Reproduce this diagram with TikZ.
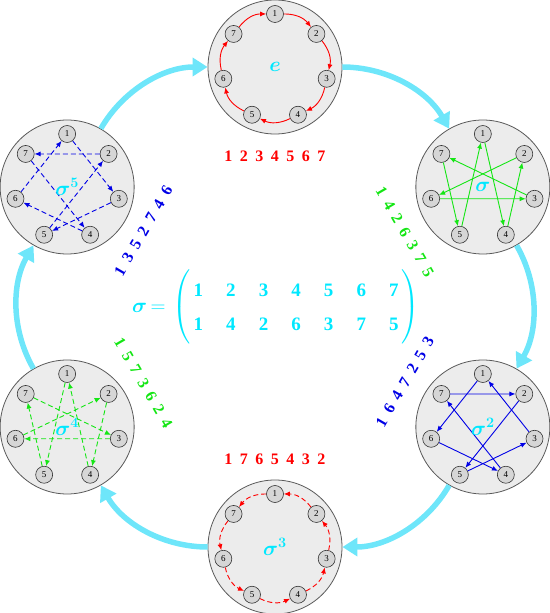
\documentclass[tikz,border=0pt]{standalone}
\usepackage{amsmath}
\usepackage{fontspec}
\setmainfont{Liberation Serif}
\usepackage{tikz}
\usetikzlibrary{calc,positioning,arrows.meta}

\definecolor{discfill}{RGB}{236,236,236}
\definecolor{dotfill}{RGB}{214,214,214}
\definecolor{symcyan}{RGB}{0,232,255}
\definecolor{flowcyan}{RGB}{110,230,250}
\definecolor{pred}{RGB}{255,0,0}
\definecolor{pgreen}{RGB}{20,230,20}
\definecolor{pblue}{RGB}{0,0,230}

\newcommand\gp{\hskip 7.5pt}

\tikzset{
  disc/.style={circle,draw=black!65,fill=discfill,line width=0.8pt,minimum size=134pt,inner sep=0pt},
  dot/.style={circle,draw=black!80,fill=dotfill,line width=0.6pt,minimum size=17pt,inner sep=0pt,font=\fontsize{9}{9}\selectfont},
  hop/.style={-{Latex[length=6pt,width=5pt]},line width=0.9pt},
  flow/.style={flowcyan,line width=5.5pt,-{Triangle[length=15pt,width=18pt]},looseness=0.92},
  cyc/.style={font=\fontsize{16}{16}\bfseries\selectfont},
  tag/.style={symcyan,font=\fontsize{21}{21}\selectfont}
}

\begin{document}
\begin{tikzpicture}[x=1pt,y=1pt]
	\useasboundingbox (-275,-306) rectangle (274,307);
	% the six powers
	\foreach \nm/\ang in {e/90,s1/30,s2/-30,s3/-90,s4/210,s5/150}{
		\node[disc] (\nm) at (\ang:240) {};
		\foreach \k in {1,...,7}
			\node[dot] (\nm-\k) at ([shift={({90-(\k-1)*360/7}:53)}]\nm.center) {\k};
	}
	% cyan flow between them
	\path[flow]
		(e) edge [bend left=30] (s1)
		(s1) edge [bend left=30] (s2)
		(s2) edge [bend left=30] (s3)
		(s3) edge [bend left=30] (s4)
		(s4) edge [bend left=30] (s5)
		(s5) edge [bend left=30] (e);
	% cycles inside
	\foreach \a/\b in {1/2,2/3,3/4,4/5,5/6,6/7,7/1}
		\draw[hop,pred] (e-\a) to[bend left=26] (e-\b);
	\foreach \a/\b in {1/4,4/2,2/6,6/3,3/7,7/5,5/1}
		\draw[hop,pgreen] (s1-\a) -- (s1-\b);
	\foreach \a/\b in {1/6,6/4,4/7,7/2,2/5,5/3,3/1}
		\draw[hop,pblue] (s2-\a) -- (s2-\b);
	\foreach \a/\b in {1/7,7/6,6/5,5/4,4/3,3/2,2/1}
		\draw[hop,pred,dash pattern=on 5pt off 3pt] (s3-\a) to[bend right=26] (s3-\b);
	\foreach \a/\b in {1/5,5/7,7/3,3/6,6/2,2/4,4/1}
		\draw[hop,pgreen,dash pattern=on 5pt off 3pt] (s4-\a) -- (s4-\b);
	\foreach \a/\b in {1/3,3/5,5/2,2/7,7/4,4/6,6/1}
		\draw[hop,pblue,dash pattern=on 5pt off 3pt] (s5-\a) -- (s5-\b);
	% names of the powers
	\node[tag] at (e) {$\boldsymbol{e}$};
	\node[tag] at (s1) {$\boldsymbol{\sigma}$};
	\node[tag] at (s2) {$\boldsymbol{\sigma^2}$};
	\node[tag] at (s3) {$\boldsymbol{\sigma^3}$};
	\node[tag] at (s4) {$\boldsymbol{\sigma^4}$};
	\node[tag] at (s5) {$\boldsymbol{\sigma^5}$};
	% cycle notation
	\node[cyc,pred] (c0) at (90:151) {1\gp 2\gp 3\gp 4\gp 5\gp 6\gp 7};
	\node[cyc,pgreen,rotate=-60] (c1) at (30:150) {1\gp 4\gp 2\gp 6\gp 3\gp 7\gp 5};
	\node[cyc,pblue,rotate=60] (c2) at (-30:150) {1\gp 6\gp 4\gp 7\gp 2\gp 5\gp 3};
	\node[cyc,pred] (c3) at (-90:152) {1\gp 7\gp 6\gp 5\gp 4\gp 3\gp 2};
	\node[cyc,pgreen,rotate=-60] (c4) at (210:152) {1\gp 5\gp 7\gp 3\gp 6\gp 2\gp 4};
	\node[cyc,pblue,rotate=60] (c5) at (150:152) {1\gp 3\gp 5\gp 2\gp 7\gp 4\gp 6};
	% the permutation
	\node[symcyan,font=\fontsize{21}{26}\selectfont] (perm) at (1,0)
		{$\boldsymbol{\sigma}\,\mathbf{=}\,\left(\vcenter{\hbox{\hskip3pt\fontsize{19}{24}\bfseries\selectfont
		\renewcommand\arraystretch{1.42}\setlength\tabcolsep{11.55pt}%
		\begin{tabular}{@{}ccccccc@{}}
			1&2&3&4&5&6&7\\
			1&4&2&6&3&7&5
		\end{tabular}\hskip3pt}}\right)$};
\end{tikzpicture}
\end{document}
